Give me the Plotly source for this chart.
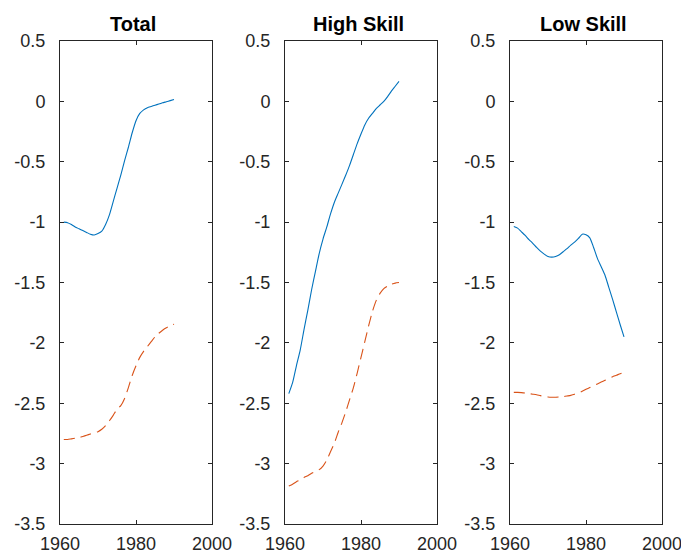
import plotly.graph_objects as go

# Years covered by every series
years = list(range(1961, 1991))

# Panel titles
panels = ["Total", "High Skill", "Low Skill"]

# Solid series (blue) for each panel
total_solid = [-1.00, -1.005, -1.02, -1.04, -1.055, -1.07, -1.085, -1.10, -1.107, -1.095,
               -1.075, -1.02, -0.94, -0.83, -0.72, -0.61, -0.49, -0.38, -0.26, -0.16,
               -0.10, -0.07, -0.052, -0.042, -0.032, -0.022, -0.012, -0.003, 0.006, 0.015]
high_solid = [-2.42, -2.33, -2.19, -2.06, -1.89, -1.73, -1.56, -1.41, -1.26, -1.14,
              -1.04, -0.93, -0.835, -0.76, -0.685, -0.61, -0.53, -0.44, -0.35, -0.27,
              -0.195, -0.14, -0.10, -0.06, -0.03, 0.00, 0.04, 0.085, 0.125, 0.165]
low_solid = [-1.037, -1.05, -1.08, -1.11, -1.145, -1.175, -1.21, -1.24, -1.265, -1.285,
             -1.29, -1.285, -1.27, -1.245, -1.22, -1.19, -1.165, -1.135, -1.10, -1.105,
             -1.13, -1.21, -1.30, -1.37, -1.44, -1.54, -1.64, -1.745, -1.85, -1.95]

# Dashed series (orange) for each panel
total_dashed = [-2.80, -2.80, -2.795, -2.79, -2.785, -2.775, -2.765, -2.755, -2.745, -2.735,
                -2.715, -2.685, -2.645, -2.60, -2.55, -2.52, -2.46, -2.37, -2.27, -2.19,
                -2.12, -2.07, -2.03, -1.99, -1.95, -1.92, -1.895, -1.875, -1.86, -1.845]
high_dashed = [-3.185, -3.17, -3.15, -3.135, -3.115, -3.10, -3.08, -3.065, -3.05, -3.02,
               -2.97, -2.90, -2.83, -2.74, -2.66, -2.57, -2.47, -2.37, -2.25, -2.12,
               -1.99, -1.86, -1.74, -1.65, -1.59, -1.55, -1.53, -1.515, -1.505, -1.50]
low_dashed = [-2.41, -2.41, -2.412, -2.415, -2.42, -2.425, -2.43, -2.437, -2.443, -2.448,
              -2.45, -2.45, -2.448, -2.445, -2.44, -2.435, -2.425, -2.415, -2.40, -2.385,
              -2.37, -2.355, -2.34, -2.325, -2.31, -2.295, -2.28, -2.268, -2.255, -2.245]

solid_series = [total_solid, high_solid, low_solid]
dashed_series = [total_dashed, high_dashed, low_dashed]

# Axis ticks
x_ticks = [1960, 1980, 2000]
y_ticks = [0.5, 0, -0.5, -1, -1.5, -2, -2.5, -3, -3.5]
y_tick_labels = ["0.5", "0", "-0.5", "-1", "-1.5", "-2", "-2.5", "-3", "-3.5"]

BLUE = "#0072BD"
ORANGE = "#D95319"
AXIS = "#262626"
FONT = "Liberation Sans"

W, H = 681, 554
ML, MR, MT, MB = 60, 19, 41, 30
plot_w = W - ML - MR
panel_w = 152
panel_left = [0, 225, 450]

fig = go.Figure()
layout = dict(
    width=W, height=H,
    margin=dict(l=ML, r=MR, t=MT, b=MB, pad=0, autoexpand=False),
    paper_bgcolor="white", plot_bgcolor="white",
    showlegend=False,
    font=dict(family=FONT, size=18, color=AXIS),
    annotations=[],
)

for i, title in enumerate(panels):
    xa = "x" if i == 0 else f"x{i + 1}"
    ya = "y" if i == 0 else f"y{i + 1}"
    fig.add_trace(go.Scatter(x=years, y=solid_series[i], mode="lines",
                             line=dict(color=BLUE, width=1.1, shape="spline", smoothing=0.6),
                             xaxis=xa, yaxis=ya))
    fig.add_trace(go.Scatter(x=years, y=dashed_series[i], mode="lines",
                             line=dict(color=ORANGE, width=1.1, dash="11px,6px",
                                       shape="spline", smoothing=0.6),
                             xaxis=xa, yaxis=ya))
    d0 = panel_left[i] / plot_w
    d1 = min((panel_left[i] + panel_w) / plot_w, 1.0)
    axis_common = dict(showline=True, linecolor=AXIS, linewidth=1, mirror="ticks",
                       ticks="inside", ticklen=4, tickcolor=AXIS, tickwidth=1,
                       showgrid=False, zeroline=False, automargin=False,
                       ticklabeloverflow="allow",
                       tickfont=dict(family=FONT, size=18, color=AXIS))
    layout["xaxis" if i == 0 else f"xaxis{i + 1}"] = dict(
        domain=[d0, d1], range=[1960, 2000], anchor=ya, ticklabelstandoff=3,
        tickvals=x_ticks, ticktext=[str(v) for v in x_ticks], **axis_common)
    layout["yaxis" if i == 0 else f"yaxis{i + 1}"] = dict(
        domain=[0, 1], range=[-3.5, 0.5], anchor=xa, ticklabelstandoff=10,
        tickvals=y_ticks, ticktext=y_tick_labels, **axis_common)
    layout["annotations"].append(dict(
        text=f"<b>{title}</b>", x=(d0 + d1) / 2, y=1, xref="paper", yref="paper",
        xanchor="center", yanchor="bottom", yshift=4, xshift=-3, showarrow=False,
        font=dict(family=FONT, size=20, color="black")))

fig.update_layout(**layout)
fig.write_html("out.html")
